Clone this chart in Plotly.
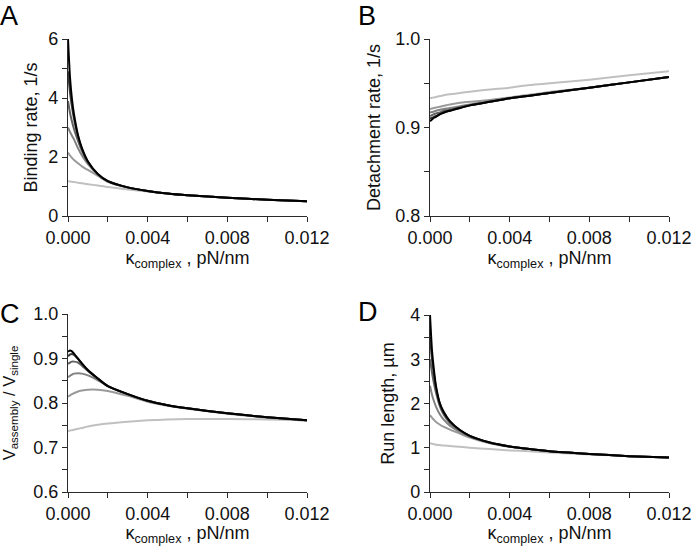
import plotly.graph_objects as go

# stiffness values (pN/nm)
kappa = [0, 0.0001, 0.0002, 0.0003, 0.0005, 0.0007, 0.001, 0.0015, 0.002,
         0.003, 0.004, 0.005, 0.006, 0.008, 0.010, 0.012]

# series ordered from lightest grey to black
series_colors = ["#c0c0c0", "#9a9a9a", "#828282", "#626262", "#3c3c3c", "#000000"]

# Panel A: binding rate, 1/s
binding_s1 = [1.18, 1.17, 1.16, 1.15, 1.13, 1.11, 1.08, 1.03, 0.98, 0.90, 0.83, 0.76, 0.70, 0.62, 0.55, 0.50]
binding_s2 = [2.15, 2.05, 1.97, 1.90, 1.79, 1.68, 1.56, 1.36, 1.16, 0.96, 0.84, 0.76, 0.70, 0.62, 0.55, 0.50]
binding_s3 = [3.00, 2.85, 2.72, 2.60, 2.30, 2.05, 1.76, 1.41, 1.17, 0.97, 0.85, 0.76, 0.70, 0.62, 0.55, 0.50]
binding_s4 = [3.90, 3.50, 3.20, 2.95, 2.55, 2.20, 1.82, 1.42, 1.18, 0.97, 0.85, 0.76, 0.70, 0.62, 0.55, 0.50]
binding_s5 = [4.90, 4.20, 3.70, 3.30, 2.70, 2.28, 1.84, 1.42, 1.18, 0.97, 0.85, 0.76, 0.70, 0.62, 0.55, 0.50]
binding_s6 = [6.00, 4.70, 3.95, 3.45, 2.75, 2.30, 1.85, 1.42, 1.18, 0.97, 0.85, 0.76, 0.70, 0.62, 0.55, 0.50]

# Panel B: detachment rate, 1/s
detach_s1 = [0.933, 0.9335, 0.934, 0.9345, 0.9355, 0.9365, 0.9375, 0.939, 0.9405, 0.943, 0.945, 0.948, 0.950, 0.954, 0.959, 0.9635]
detach_s2 = [0.921, 0.9215, 0.922, 0.9225, 0.9235, 0.9245, 0.926, 0.928, 0.929, 0.931, 0.934, 0.937, 0.940, 0.945, 0.951, 0.957]
detach_s3 = [0.917, 0.9175, 0.918, 0.919, 0.920, 0.921, 0.922, 0.924, 0.926, 0.930, 0.933, 0.936, 0.939, 0.945, 0.951, 0.957]
detach_s4 = [0.913, 0.914, 0.915, 0.916, 0.917, 0.919, 0.920, 0.923, 0.925, 0.929, 0.933, 0.936, 0.939, 0.945, 0.951, 0.957]
detach_s5 = [0.910, 0.911, 0.912, 0.913, 0.915, 0.917, 0.919, 0.922, 0.925, 0.929, 0.933, 0.936, 0.939, 0.945, 0.951, 0.957]
detach_s6 = [0.907, 0.909, 0.911, 0.912, 0.915, 0.917, 0.919, 0.922, 0.925, 0.929, 0.933, 0.936, 0.939, 0.945, 0.951, 0.957]

# Panel C: velocity ratio V_assembly / V_single
velocity_s1 = [0.737, 0.738, 0.739, 0.740, 0.742, 0.744, 0.747, 0.751, 0.754, 0.758, 0.761, 0.763, 0.764, 0.764, 0.763, 0.761]
velocity_s2 = [0.814, 0.817, 0.820, 0.822, 0.826, 0.828, 0.830, 0.830, 0.827, 0.816, 0.803, 0.794, 0.787, 0.776, 0.767, 0.760]
velocity_s3 = [0.858, 0.861, 0.864, 0.866, 0.867, 0.866, 0.862, 0.851, 0.838, 0.819, 0.805, 0.795, 0.788, 0.777, 0.768, 0.761]
velocity_s4 = [0.888, 0.891, 0.893, 0.893, 0.891, 0.884, 0.872, 0.854, 0.838, 0.820, 0.805, 0.795, 0.788, 0.777, 0.768, 0.761]
velocity_s5 = [0.905, 0.909, 0.910, 0.908, 0.899, 0.888, 0.873, 0.855, 0.838, 0.820, 0.805, 0.795, 0.788, 0.777, 0.768, 0.761]
velocity_s6 = [0.915, 0.918, 0.916, 0.911, 0.900, 0.889, 0.874, 0.855, 0.838, 0.820, 0.805, 0.795, 0.788, 0.777, 0.768, 0.761]

# Panel D: run length, um
run_s1 = [1.10, 1.09, 1.08, 1.07, 1.06, 1.05, 1.04, 1.02, 1.00, 0.97, 0.94, 0.92, 0.89, 0.85, 0.81, 0.78]
run_s2 = [1.74, 1.68, 1.63, 1.58, 1.52, 1.47, 1.41, 1.32, 1.23, 1.10, 1.02, 0.97, 0.92, 0.86, 0.81, 0.78]
run_s3 = [2.40, 2.20, 2.05, 1.93, 1.75, 1.63, 1.50, 1.36, 1.25, 1.11, 1.03, 0.97, 0.92, 0.86, 0.81, 0.78]
run_s4 = [3.00, 2.70, 2.45, 2.25, 1.93, 1.74, 1.56, 1.39, 1.26, 1.12, 1.03, 0.97, 0.92, 0.86, 0.81, 0.78]
run_s5 = [3.50, 3.00, 2.65, 2.35, 1.98, 1.78, 1.59, 1.40, 1.27, 1.12, 1.03, 0.97, 0.92, 0.86, 0.81, 0.78]
run_s6 = [4.00, 3.20, 2.75, 2.40, 2.00, 1.80, 1.60, 1.40, 1.27, 1.12, 1.03, 0.97, 0.92, 0.86, 0.81, 0.78]

x_tick_vals = [0, 0.004, 0.008, 0.012]
x_tick_text = ["0.000", "0.004", "0.008", "0.012"]
x_title = "κ<sub>complex</sub> , pN/nm"

panels = [
    dict(series=[binding_s1, binding_s2, binding_s3, binding_s4, binding_s5, binding_s6],
         xa="x", ya="y", yrange=[0, 6], ydtick=2, yminor=1, yfmt=None,
         ytitle="Binding rate, 1/s", ysize=18, ystand=5, letter="A"),
    dict(series=[detach_s1, detach_s2, detach_s3, detach_s4, detach_s5, detach_s6],
         xa="x2", ya="y2", yrange=[0.8, 1.0], ydtick=0.1, yminor=0.05, yfmt=".1f",
         ytitle="Detachment rate, 1/s", ysize=18, ystand=9, letter="B"),
    dict(series=[velocity_s1, velocity_s2, velocity_s3, velocity_s4, velocity_s5, velocity_s6],
         xa="x3", ya="y3", yrange=[0.6, 1.0], ydtick=0.1, yminor=0.05, yfmt=".1f",
         ytitle="V<sub>assembly</sub> / V<sub>single</sub>", ysize=16.5, ystand=17, letter="C"),
    dict(series=[run_s1, run_s2, run_s3, run_s4, run_s5, run_s6],
         xa="x4", ya="y4", yrange=[0, 4], ydtick=1, yminor=0.5, yfmt=None,
         ytitle="Run length, µm", ysize=18, ystand=10, letter="D"),
]

W, H = 693, 546
def xd(a, b):
    return [a / W, b / W]
def yd(top, bottom):
    return [1 - bottom / H, 1 - top / H]

domains = [
    (xd(68, 307), yd(39, 216)),
    (xd(430, 669), yd(39, 216)),
    (xd(68, 307), yd(314, 492)),
    (xd(430, 669), yd(315, 492)),
]
# top-left anchor of the panel letters (pixels)
letter_pos = [(-1, 0), (357, 0), (-1, 298), (357, 296)]

fig = go.Figure()
font_family = "Liberation Sans, Arial, sans-serif"
axis_color = "#2a2a2a"

layout = dict(
    template="none",
    width=W, height=H,
    margin=dict(l=0, r=0, t=0, b=0, pad=0),
    paper_bgcolor="white", plot_bgcolor="white",
    showlegend=False,
    font=dict(family=font_family, size=18, color="#111111"),
    annotations=[],
)

for i, p in enumerate(panels):
    for s, col in zip(p["series"], series_colors):
        fig.add_trace(go.Scatter(x=kappa, y=s, mode="lines",
                                 line=dict(color=col, width=2, shape="spline", smoothing=0.6),
                                 xaxis=p["xa"], yaxis=p["ya"], hoverinfo="skip"))
    suffix = "" if i == 0 else str(i + 1)
    xdom, ydom = domains[i]
    layout["xaxis" + suffix] = dict(
        domain=xdom, anchor=p["ya"], range=[0, 0.012], automargin=False,
        tickvals=x_tick_vals, ticktext=x_tick_text,
        showline=True, linecolor=axis_color, linewidth=1.3,
        ticks="outside", ticklen=5, tickcolor=axis_color, tickwidth=1.3,
        minor=dict(dtick=0.002, tick0=0, ticks="outside", ticklen=5,
                   tickcolor=axis_color, tickwidth=1.2),
        showgrid=False, zeroline=False,
        tickfont=dict(size=18, family=font_family),
        title=dict(text=x_title, font=dict(size=18, family=font_family), standoff=2),
    )
    yax = dict(
        domain=ydom, anchor=p["xa"], range=p["yrange"], automargin=False,
        dtick=p["ydtick"], tick0=p["yrange"][0],
        showline=True, linecolor=axis_color, linewidth=1.3,
        ticks="outside", ticklen=5, tickcolor=axis_color, tickwidth=1.3,
        minor=dict(dtick=p["yminor"], ticks="outside", ticklen=5,
                   tickcolor=axis_color, tickwidth=1.2),
        showgrid=False, zeroline=False,
        tickfont=dict(size=18, family=font_family),
        title=dict(text=p["ytitle"], font=dict(size=p["ysize"], family=font_family),
                   standoff=p["ystand"]),
    )
    if p["yfmt"]:
        yax["tickformat"] = p["yfmt"]
    layout["yaxis" + suffix] = yax
    lx, ly = letter_pos[i]
    layout["annotations"].append(dict(
        text=p["letter"], x=lx / W, y=1 - ly / H, xref="paper", yref="paper",
        xanchor="left", yanchor="top", showarrow=False, borderpad=0,
        font=dict(size=27, color="#000000", family=font_family)))

fig.update_layout(**layout)
fig.write_html("out.html", config={"displayModeBar": False},
               post_script="document.body.style.margin='0';document.body.style.overflow='hidden';")
